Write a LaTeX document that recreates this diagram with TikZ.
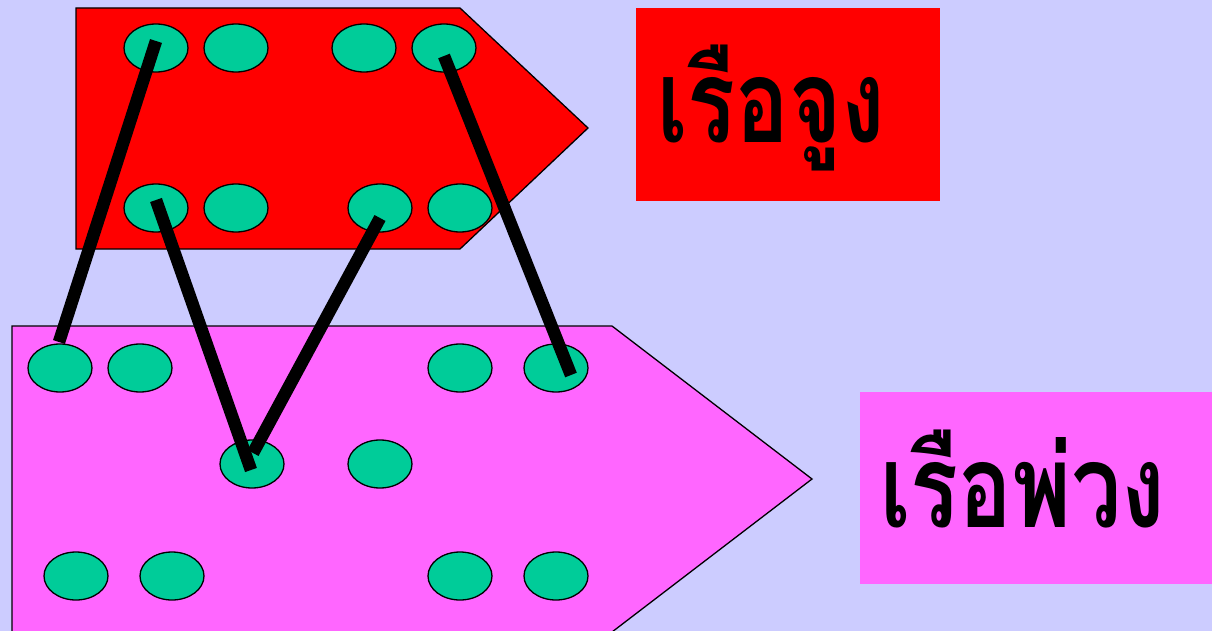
\documentclass[tikz,border=0pt]{standalone}
\usepackage{fontspec}
\newfontfamily\thaifont[Script=Thai]{Loma}
\usetikzlibrary{shapes.geometric}
\definecolor{bgc}{HTML}{CCCCFF}
\definecolor{redc}{HTML}{FF0000}
\definecolor{magc}{HTML}{FF66FF}
\definecolor{grnc}{HTML}{00CC99}
\newcommand{\boatname}[1]{\scalebox{0.77}[1]{#1}}
\tikzset{
  hole/.style={ellipse, draw=black, line width=1.3pt, fill=grnc, minimum width=64pt, minimum height=48pt, inner sep=0pt},
  rope/.style={line width=12.5pt, black, line cap=butt},
  hull/.style={draw=black, line width=1.3pt},
  label/.style={font=\thaifont\bfseries\fontsize{116}{120}\selectfont, anchor=base west, inner sep=0pt}
}
\begin{document}
\begin{tikzpicture}[x=1pt,y=-1pt]
\useasboundingbox (0,0) rectangle (1212,631);
\fill[bgc] (0,0) rectangle (1212,631);
\begin{scope}
\clip (0,0) rectangle (1212,631);
% boats
\draw[hull, fill=redc] (76,8) -- (460,8) -- (588,128) -- (460,249) -- (76,249) -- cycle;
\draw[hull, fill=magc] (12,326) -- (612,326) -- (812,479) -- (612,632) -- (12,632) -- cycle;
\end{scope}
% label boxes
\fill[redc] (636,8) rectangle (940,201);
\fill[magc] (860,392) rectangle (1212,584);
\node[label] (tug) at (657,143) {\boatname{เรือจูง}};
\node[label] (barge) at (880,527) {\boatname{เรือพ่วง}};
% holes on tug
\node[hole] (r1) at (156,48) {};
\node[hole] (r2) at (236,48) {};
\node[hole] (r3) at (364,48) {};
\node[hole] (r4) at (444,48) {};
\node[hole] (r5) at (156,208) {};
\node[hole] (r6) at (236,208) {};
\node[hole] (r7) at (380,208) {};
\node[hole] (r8) at (460,208) {};
% holes on barge
\node[hole] (m1) at (60,368) {};
\node[hole] (m2) at (140,368) {};
\node[hole] (m3) at (460,368) {};
\node[hole] (m4) at (556,368) {};
\node[hole] (m5) at (252,464) {};
\node[hole] (m6) at (380,464) {};
\node[hole] (m7) at (76,576) {};
\node[hole] (m8) at (172,576) {};
\node[hole] (m9) at (460,576) {};
\node[hole] (m10) at (556,576) {};
% ropes
\draw[rope] ([shift={(0,-7)}]r1.center) -- ([shift={(-1,-26)}]m1.center);
\draw[rope] ([shift={(0,-8)}]r5.center) -- ([shift={(-1,6)}]m5.center);
\draw[rope] ([shift={(0,10)}]r7.center) -- ([shift={(1,-11)}]m5.center);
\draw[rope] ([shift={(0,8)}]r4.center) -- ([shift={(15,7)}]m4.center);
\end{tikzpicture}
\end{document}
